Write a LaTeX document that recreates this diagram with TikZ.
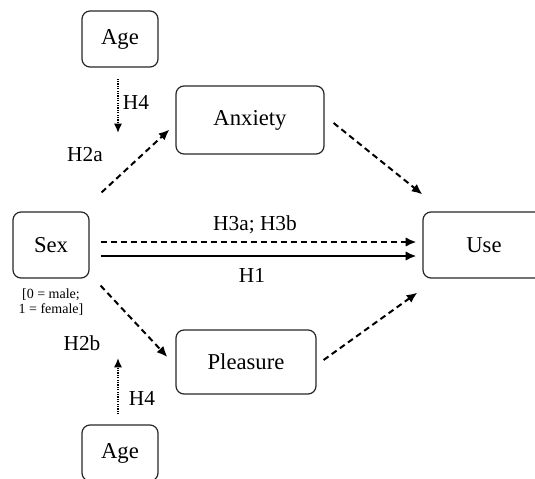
\documentclass[tikz,border=0pt]{standalone}
\usepackage{fontspec}
\setmainfont{Liberation Serif}
\usetikzlibrary{arrows.meta}

\tikzset{every picture/.style={line width=0.75pt}}

\begin{document}
\begin{tikzpicture}[x=0.75pt,y=-0.75pt,
  varbox/.style={draw=black!85,line width=0.9pt,rounded corners=6pt,inner sep=0pt,
    font=\fontsize{17}{20}\selectfont},
  hyplabel/.style={inner sep=0.75pt,font=\fontsize{16}{19}\selectfont},
  effect/.style={line width=1.5pt,-{Latex[length=8pt,width=7pt]}},
  indirect/.style={effect,dash pattern=on 4.5pt off 3pt},
  moderate/.style={line width=1.2pt,dash pattern=on 0.9pt off 0.9pt,-{Latex[length=7pt,width=6pt]}}]
\useasboundingbox (0,0) rectangle (535,478);

%Shape: Rounded Rect (variables)
\node [varbox,minimum width=57pt,minimum height=42pt] (agetop) at (120,39) {Age};
\node [varbox,minimum width=111pt,minimum height=51pt] (anxiety) at (250,120) {Anxiety};
\node [varbox,minimum width=57pt,minimum height=49.5pt] (sex) at (51,245) {Sex};
\node [varbox,minimum width=91.5pt,minimum height=49.5pt] (use) at (484,245) {Use};
\node [varbox,minimum width=105pt,minimum height=48pt] (pleasure) at (246,362) {Pleasure};
\node [varbox,minimum width=57pt,minimum height=42pt] (agebot) at (120,453) {Age};

%free ends of the moderation arrows
\coordinate (modtop) at (118,133);
\coordinate (modbot) at (118,358);

%Connectors
\draw [indirect] ([shift={(12,-19)}]sex.north east) -- ([shift={(-6,-25)}]anxiety.south west);
\draw [indirect] ([shift={(9,3)}]anxiety.east) -- ([shift={(0,-17)}]use.north west);
\draw [indirect] ([shift={(11,-3)}]sex.east) -- ([shift={(-6,-3)}]use.west);
\draw [effect] ([shift={(11,11)}]sex.east) -- ([shift={(-6,11)}]use.west);
\draw [indirect] ([shift={(11,7)}]sex.south east) -- ([shift={(-8,-5)}]pleasure.west);
\draw [indirect] ([shift={(7,-2)}]pleasure.east) -- ([shift={(-5,14)}]use.south west);
\draw [moderate] ([shift={(-2,11)}]agetop.south) -- (modtop);
\draw [moderate] ([shift={(-2,-10)}]agebot.north) -- (modbot);

% Text Node
\node [hyplabel] (h4top) at (136,102) {H4};
% Text Node
\node [hyplabel] (h2a) at (85,155) {H2a};
% Text Node
\node [hyplabel] (h3) at (255,225) {H3a; H3b};
% Text Node
\node [hyplabel] (h1) at (252,275) {H1};
% Text Node
\node [hyplabel] (h2b) at (82,343) {H2b};
% Text Node
\node [hyplabel] (h4bot) at (142,398) {H4};
% Text Node
\node [inner sep=0.75pt,align=center,font=\fontsize{10.5}{11}\selectfont] (sexcode) at (51,302) {[0 = male;\\ 1 = female]};

\end{tikzpicture}
\end{document}
